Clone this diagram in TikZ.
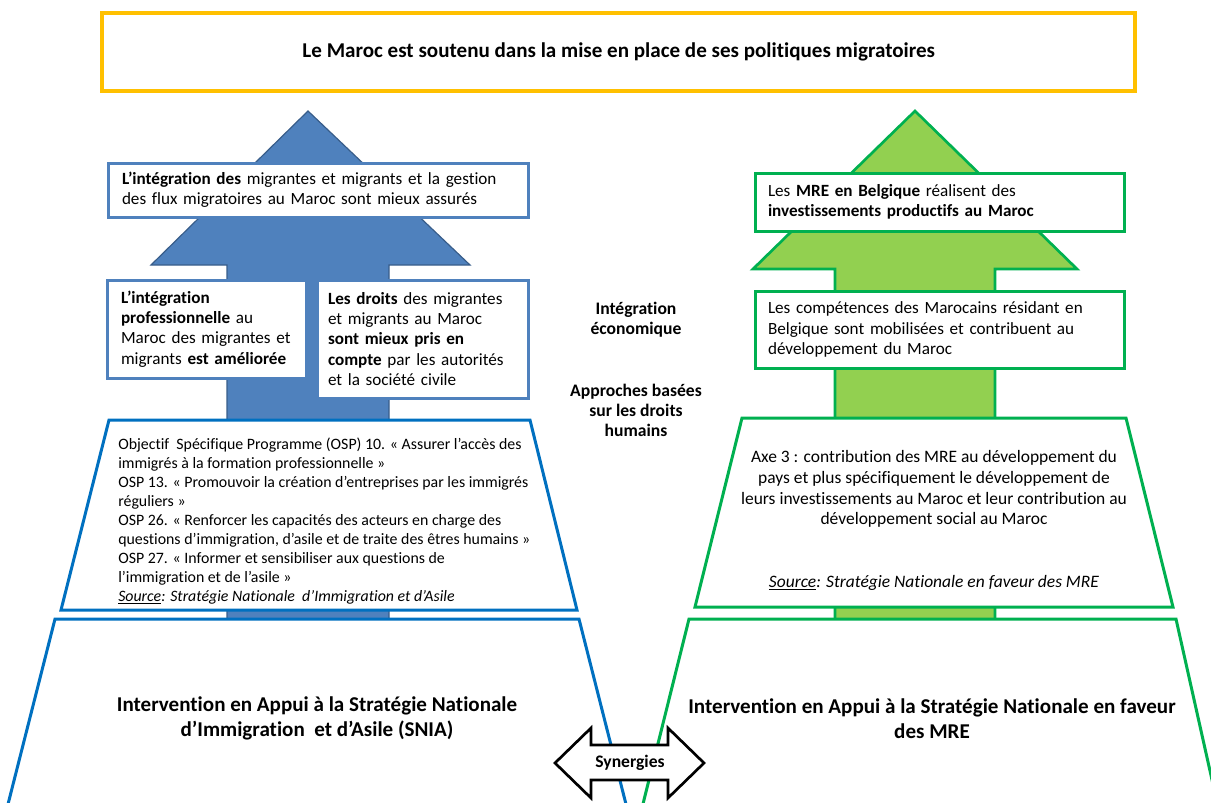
\documentclass[tikz,border=0pt]{standalone}
\usepackage{fontspec}
\setmainfont[Ligatures={NoCommon}]{Carlito}
\definecolor{arrblue}{HTML}{4F81BD}
\definecolor{arrblueline}{HTML}{385D8A}
\definecolor{boxblue}{HTML}{4F81BD}
\definecolor{trapblue}{HTML}{0070C0}
\definecolor{arrgreen}{HTML}{92D050}
\definecolor{grnline}{HTML}{00B050}
\definecolor{titleorange}{HTML}{FFC000}
\newcommand\fsz[2]{\fontsize{#1}{#2}\selectfont}
\tikzset{
  bluebox/.style={draw=boxblue, line width=2.25pt, fill=white, inner ysep=0pt, align=left, font=\fsz{12.85}{15.3}},
  greenbox/.style={draw=grnline, line width=2.25pt, fill=white, inner ysep=0pt, align=left, font=\fsz{12.85}{15.5}},
  midtext/.style={align=center, font=\bfseries\fsz{13.2}{15}, inner sep=0pt},
  bottext/.style={align=center, font=\bfseries\fsz{15.8}{18.75}, inner sep=0pt},
  traptext/.style={inner sep=0pt},
}
\begin{document}
\begin{tikzpicture}[x=0.75pt,y=-0.75pt]
\useasboundingbox (0,0) rectangle (1211,803);
\clip (0,0) rectangle (1211,803);
% big arrows
\draw[fill=arrblue, draw=arrblueline, line width=0.9pt, line join=miter]
  (308,111) -- (470,265) -- (389,265) -- (389,640) -- (227,640) -- (227,265) -- (151,265) -- cycle;
\draw[fill=arrgreen, draw=grnline, line width=2pt, line join=miter]
  (915,111) -- (1077,269) -- (995,269) -- (995,640) -- (835,640) -- (835,269) -- (753,269) -- cycle;
% title
\node[draw=titleorange, line width=3pt, fill=white, minimum width=774.4pt, minimum height=58.5pt,
  font=\bfseries\fsz{15.8}{18}] (title) at (618.75,51.75)
  {Le Maroc est soutenu dans la mise en place de ses politiques migratoires};
% blue boxes
\node[bluebox, inner xsep=10.5pt, text width=294pt, minimum height=40.5pt] (b1) at (318,190)
  {\textbf{L’intégration des} migrantes et migrants et la gestion\\des flux migratoires au Maroc sont mieux assurés};
\node[bluebox, inner xsep=10.5pt, text width=128.25pt, minimum height=73.5pt] (b2) at (206.5,329)
  {\textbf{L’intégration}\\\textbf{professionnelle} au\\Maroc des migrantes et\\migrants \textbf{est améliorée}};
\node[bluebox, inner xsep=8.25pt, text width=141.75pt, minimum height=88.5pt] (b3) at (422.5,339)
  {\textbf{Les droits} des migrantes\\et migrants au Maroc\\\textbf{sont mieux pris en}\\\textbf{compte} par les autorités\\et la société civile};
% green boxes
\node[greenbox, inner xsep=9.75pt, text width=257.25pt, minimum height=43.5pt] (g1) at (939.5,202)
  {Les \textbf{MRE en Belgique} réalisent des\\\textbf{investissements productifs au Maroc}};
\node[greenbox, inner xsep=9.75pt, text width=257.25pt, minimum height=57.75pt] (g2) at (939.5,329.5)
  {Les compétences des Marocains résidant en\\Belgique sont mobilisées et contribuent au\\développement du Maroc};
% trapezoids
\draw[draw=trapblue, line width=2.25pt, fill=white, line join=miter]
  (109,420) -- (530,420) -- (577,610) -- (61,610) -- cycle;
\draw[draw=trapblue, line width=2.25pt, fill=white, line join=miter]
  (4,820) -- (55,619) -- (579,619) -- (630,820);
\draw[draw=grnline, line width=2.25pt, fill=white, line join=miter]
  (742,418) -- (1126,418) -- (1173,607) -- (695,607) -- cycle;
\draw[draw=grnline, line width=2.25pt, fill=white, line join=miter]
  (639,820) -- (689,619) -- (1176,619) -- (1221,820);
% trapezoid texts
\node[traptext, anchor=west, align=left, font=\fsz{11.9}{14.25}] (osp) at (118,521)
  {Objectif\ \ Spécifique Programme (OSP) 10. « Assurer l’accès des\\
   immigrés à la formation professionnelle »\\
   OSP 13. « Promouvoir la création d’entreprises par les immigrés\\
   réguliers »\\
   OSP 26. « Renforcer les capacités des acteurs en charge des\\
   questions d’immigration, d’asile et de traite des êtres humains »\\
   OSP 27. « Informer et sensibiliser aux questions de\\
   l’immigration et de l’asile »\\
   \textit{\underline{Source}: Stratégie Nationale\ \ d’Immigration et d’Asile}};
\node[traptext, align=center, font=\fsz{13.1}{15.6}] (axe) at (934,489)
  {Axe 3 : contribution des MRE au développement du\\
   pays et plus spécifiquement le développement de\\
   leurs investissements au Maroc et leur contribution au\\
   développement social au Maroc};
\node[traptext, font=\fsz{13.1}{15.6}] (src) at (934,583)
  {\textit{\underline{Source}: Stratégie Nationale en faveur des MRE}};
\node[bottext] (snia) at (317,718.5)
  {Intervention en Appui à la Stratégie Nationale\\d’Immigration\ \ et d’Asile (SNIA)};
\node[bottext] (smre) at (932,718.5)
  {Intervention en Appui à la Stratégie Nationale en faveur\\des MRE};
% middle labels
\node[midtext] (integ) at (636,320) {Intégration\\économique};
\node[midtext] (appr) at (636,410) {Approches basées\\sur les droits\\humains};
% synergies arrow
\draw[draw=black, line width=2pt, fill=white, line join=miter]
  (555,763) -- (591,728) -- (591,745) -- (668,745) -- (668,728) -- (704,763)
  -- (668,798) -- (668,780) -- (591,780) -- (591,798) -- cycle;
\node[midtext] (syn) at (630,763) {Synergies};
\end{tikzpicture}
\end{document}
